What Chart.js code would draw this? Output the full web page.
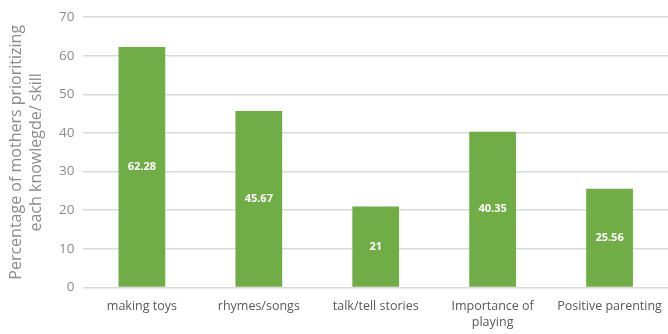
<!DOCTYPE html>
<html>
<head>
<meta charset="utf-8">
<script src="https://cdn.jsdelivr.net/npm/chart.js@4"></script>
<style>
  html, body { margin: 0; padding: 0; background: #fff; }
  #wrap { width: 668px; height: 334px; }
</style>
</head>
<body>
<div id="wrap"><canvas id="chart"></canvas></div>
<script>
// Data
const categories = ['making toys', 'rhymes/songs', 'talk/tell stories', ['Importance of', 'playing'], 'Positive parenting'];
const percentages = [62.28, 45.67, 21, 40.35, 25.56];
const valueLabels = ['62.28', '45.67', '21', '40.35', '25.56'];
const yTitle = ['Percentage of mothers prioritizing', 'each knowlegde/ skill'];

const FONT = '"Open Sans", Lato, sans-serif';

// Draw value labels in the middle of each bar
const barLabels = {
  id: 'barLabels',
  afterDatasetsDraw(chart) {
    const ctx = chart.ctx;
    const meta = chart.getDatasetMeta(0);
    ctx.save();
    ctx.fillStyle = '#ffffff';
    ctx.font = 'bold 11px ' + FONT;
    ctx.textAlign = 'center';
    ctx.textBaseline = 'middle';
    meta.data.forEach((bar, i) => {
      ctx.fillText(valueLabels[i], bar.x, (bar.y + bar.base) / 2);
    });
    ctx.restore();
  }
};

const ctx = document.getElementById('chart').getContext('2d');
new Chart(ctx, {
  type: 'bar',
  data: {
    labels: categories,
    datasets: [{
      data: percentages,
      backgroundColor: '#70ad47',
      barPercentage: 0.4,
      categoryPercentage: 1
    }]
  },
  options: {
    responsive: true,
    maintainAspectRatio: false,
    animation: false,
    layout: { padding: { top: 12, right: 0, left: 6, bottom: 0 } },
    plugins: {
      legend: { display: false },
      tooltip: { enabled: false }
    },
    scales: {
      x: {
        grid: { display: false },
        border: { display: false },
        ticks: {
          color: '#595959',
          font: { family: FONT, size: 12.5, lineHeight: 1.3 },
          maxRotation: 0,
          padding: 3
        }
      },
      y: {
        min: 0,
        max: 70,
        ticks: {
          stepSize: 10,
          color: '#8c8c8c',
          font: { family: FONT, size: 13.5 },
          padding: 9
        },
        grid: { color: '#d9d9d9', lineWidth: 1.5, drawTicks: false },
        border: { display: false },
        title: {
          display: true,
          text: yTitle,
          color: '#8c8c8c',
          font: { family: FONT, size: 16, lineHeight: 1.25 },
          padding: { top: 0, bottom: 4 }
        }
      }
    }
  },
  plugins: [barLabels]
});
</script>
</body>
</html>
